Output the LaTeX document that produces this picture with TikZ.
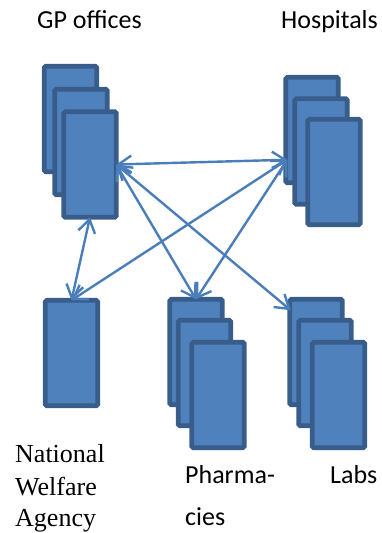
\documentclass[tikz,border=0pt]{standalone}
\usepackage{fontspec}
\setmainfont{Carlito}
\newfontfamily\serifface{Liberation Serif}
\usetikzlibrary{arrows.meta,calc}
\definecolor{cardfill}{HTML}{4F81BD}
\definecolor{cardline}{HTML}{385D8A}
\definecolor{linkcol}{HTML}{4A7EBB}
\begin{document}
\begin{tikzpicture}[x=1pt,y=-1pt,
  card/.style={draw=cardline,fill=cardfill,line width=4.6pt,rounded corners=1.5pt,
    minimum width=52.5pt,minimum height=105.5pt,inner sep=0pt,outer sep=0pt},
  link/.style={draw=linkcol,line width=2.4pt,
    {Straight Barb[length=13pt,width=17pt]}-{Straight Barb[length=13pt,width=17pt]}},
  label/.style={anchor=base west,inner sep=0pt,font=\fontsize{26}{30}\selectfont},
  slabel/.style={anchor=base west,inner sep=0pt,font=\serifface\fontsize{26}{31}\selectfont}]
\useasboundingbox (0,0) rectangle (382,533);

% GP offices
\node[card] (g1) at (70.5,119) {};
\node[card] (g2) at (81,142) {};
\node[card] (g3) at (90,164.5) {};
% Hospitals
\node[card] (h1) at (312,130) {};
\node[card] (h2) at (321,151.5) {};
\node[card] (h3) at (334,172) {};
% National Welfare Agency
\node[card] (n) at (71.5,353) {};
% Pharmacies
\node[card] (p1) at (196,352) {};
\node[card] (p2) at (204.5,373) {};
\node[card] (p3) at (218,395) {};
% Labs
\node[card] (l1) at (316,352) {};
\node[card] (l2) at (325,373) {};
\node[card] (l3) at (338.5,395) {};

% Link end points
\coordinate (hp) at ($(h1.south west)+(1.5,-23)$);
\coordinate (lp) at ($(l1.north west)+(1,11)$);

% Links
\draw[link] (g3.east) -- (hp);
\draw[link] (g3.east) -- (p1.north);
\draw[link] (g3.east) -- (lp);
\draw[link] (g3.south) -- (n.north);
\draw[link] (hp) -- (n.north);
\draw[link] (hp) -- (p1.north);

% Labels
\node[label] (tg) at (37,28) {GP offices};
\node[label] (th) at (281,28) {Hospitals};
\node[slabel] (tn1) at (15,462) {National};
\node[slabel] (tn2) at (15,495) {Welfare};
\node[slabel] (tn3) at (15,526) {Agency};
\node[label] (tp1) at (185,483) {Pharma-};
\node[label] (tp2) at (185,525) {cies};
\node[label] (tl) at (330,483) {Labs};
\end{tikzpicture}
\end{document}
